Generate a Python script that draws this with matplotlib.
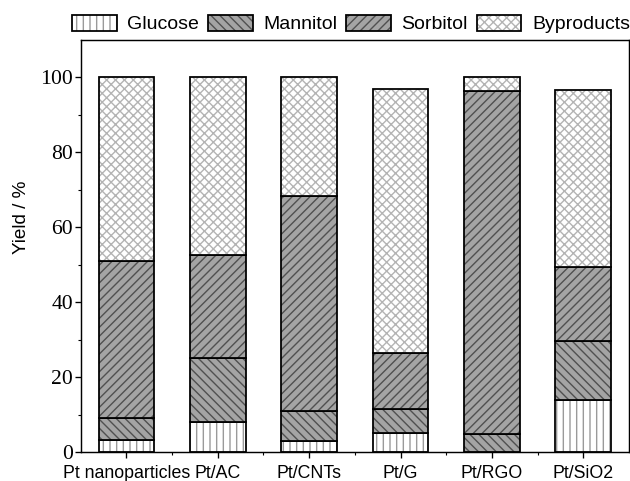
import numpy as np
import matplotlib
matplotlib.use('Agg')
import matplotlib.pyplot as plt
from matplotlib.ticker import FixedLocator

# yields of each product per catalyst (%)
catalysts = ['Pt nanoparticles', 'Pt/AC', 'Pt/CNTs', 'Pt/G', 'Pt/RGO', 'Pt/SiO2']
glucose = [3.2, 8.0, 2.9, 5.1, 0.0, 14.0]
mannitol = [5.9, 17.2, 8.0, 6.4, 4.9, 15.7]
sorbitol = [41.9, 27.3, 57.5, 14.8, 91.4, 19.6]
byproducts = [49.0, 47.5, 31.6, 70.7, 3.7, 47.3]

series = [('Glucose', glucose), ('Mannitol', mannitol),
          ('Sorbitol', sorbitol), ('Byproducts', byproducts)]
# fill, hatch, hatch colour
styles = [('white', '||', '#9a9a9a'),
          ('#a4a4a4', '\\\\\\', '#505050'),
          ('#a4a4a4', '///', '#505050'),
          ('white', 'xxx', '#b4b4b4')]

dpi = 80
plt.rcParams['hatch.linewidth'] = 1.25
fig = plt.figure(figsize=(630/dpi, 481/dpi), dpi=dpi)
ax = fig.add_axes([80.7/630, 1-452/481, (629-80.7)/630, 412/481])

x = np.arange(len(catalysts))
width = 0.61
bottom = np.zeros(len(catalysts))
handles = []
for (name, vals), (fc, hatch, hc) in zip(series, styles):
    vals = np.array(vals)
    # hatched fill first, black outline on top
    hb = ax.bar(x, vals, width, bottom=bottom, color=fc, edgecolor=hc,
                hatch=hatch, linewidth=0)
    eb = ax.bar(x, vals, width, bottom=bottom, fill=False,
                edgecolor='black', linewidth=1.6)
    handles.append((hb.patches[0], eb.patches[0]))
    bottom += vals

ax.set_xlim(-0.5, 5.5)
ax.set_ylim(0, 110)
ax.set_xticks(x)
ax.set_xticklabels(catalysts, fontsize=16, family='Liberation Sans')
ax.xaxis.set_minor_locator(FixedLocator(x[:-1] + 0.5))
ax.set_yticks([0, 20, 40, 60, 80, 100])
ax.set_yticklabels(['0', '20', '40', '60', '80', '100'], fontsize=19.5,
                   family='Liberation Serif')
ax.yaxis.set_minor_locator(FixedLocator([10, 30, 50, 70, 90]))
ax.tick_params(which='major', direction='out', length=5.4, width=1.2,
               top=False, right=False)
ax.tick_params(axis='x', which='major', pad=6)
ax.tick_params(axis='y', which='major', pad=1.5)
ax.tick_params(which='minor', direction='out', length=2.8, width=1.0,
               top=False, right=False)
for s in ax.spines.values():
    s.set_linewidth(1.3)

fig.text(21/630, 1-217/481, 'Yield / %', rotation=90, ha='center',
         va='center', fontsize=17, family='Liberation Sans')

fig.legend(handles, [s[0] for s in series], ncol=4, frameon=False,
           loc='center', bbox_to_anchor=(351/630, 1-24/481),
           prop={'family': 'Liberation Sans', 'size': 17.5},
           handlelength=2.3, handleheight=0.93, handletextpad=0.55,
           columnspacing=0.45, borderpad=0, borderaxespad=0)

fig.savefig('out.png', dpi=dpi)
